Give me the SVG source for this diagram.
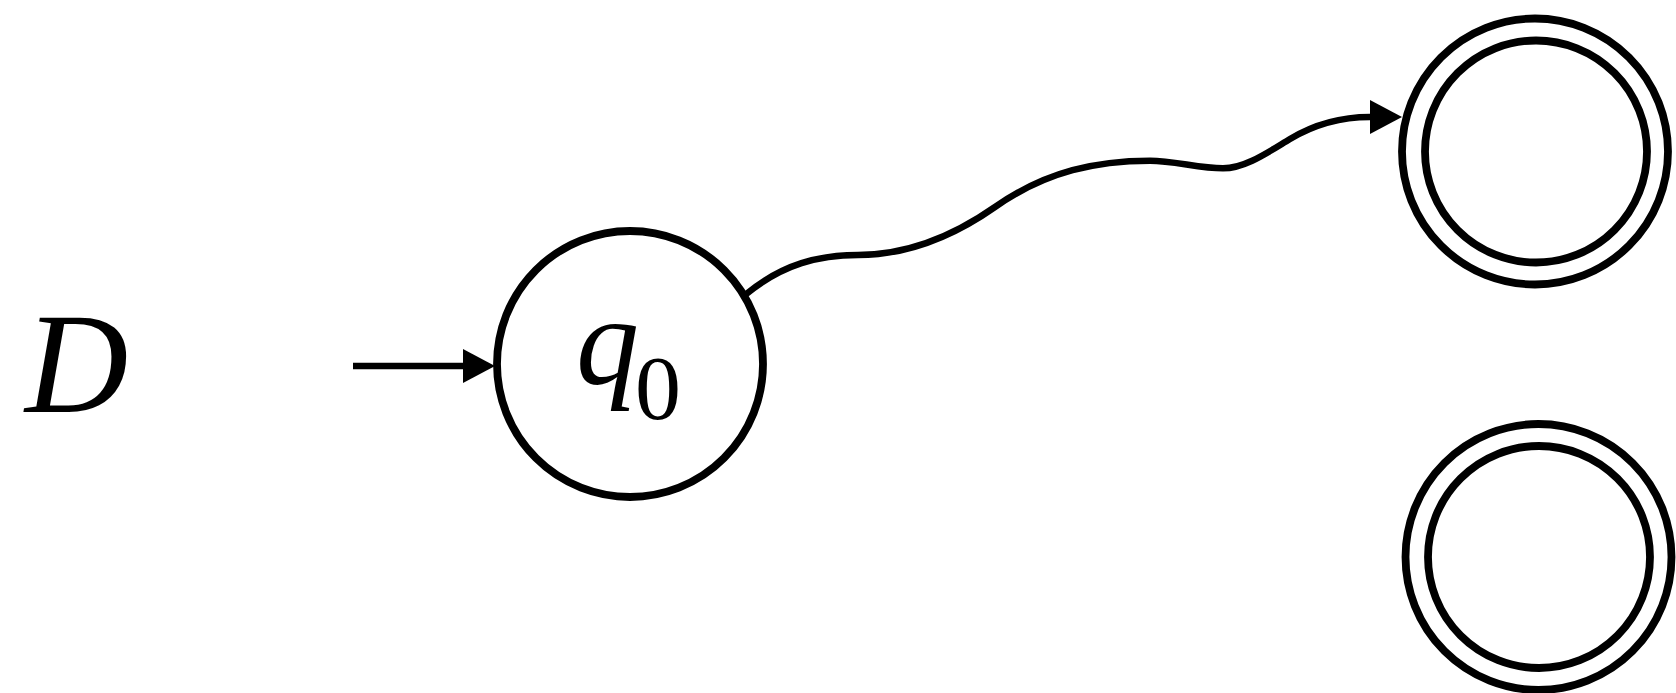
<svg xmlns="http://www.w3.org/2000/svg" width="1676" height="693" viewBox="0 0 1676 693">
<style>
.st{fill:none;stroke:#000;stroke-width:7.8}
.edge{fill:none;stroke:#000;stroke-width:6.5}
.lbl{font-family:"Liberation Serif","Times New Roman",serif;fill:#000}
</style>
<defs>
<marker id="ah" markerUnits="userSpaceOnUse" markerWidth="34" markerHeight="34" refX="0" refY="17" orient="auto" viewBox="0 0 34 34">
<path d="M0,0 L32,17 L0,34 z" fill="#000"/>
</marker>
</defs>
<rect width="1676" height="693" fill="#fff"/>
<g id="label-D">
<text class="lbl" x="25" y="412" font-size="143" font-style="italic">D</text>
</g>
<g id="q0">
<circle class="st" cx="630" cy="364" r="133"/>
<text class="lbl" x="576" y="384" font-size="126" font-style="italic">q</text>
<text class="lbl" x="635" y="419" font-size="92">0</text>
</g>
<g id="accept1">
<circle class="st" cx="1535" cy="151.5" r="133"/>
<circle class="st" cx="1536" cy="151.5" r="111"/>
</g>
<g id="accept2">
<circle class="st" cx="1538.5" cy="557" r="133"/>
<circle class="st" cx="1539" cy="557" r="111"/>
</g>
<g id="connectors">
<path class="edge" d="M353,366 L463,366" marker-end="url(#ah)"/>
<path class="edge" d="M745,295 C783,263.5 820,255 858,255 C904,255 949,239.2 995,207 C1047,170.6 1098,160.7 1150,160.7 C1174,160.7 1199,168.3 1223,168.3 C1245,168.3 1268,152.2 1290,139 C1316,123.4 1342,117 1370,117" marker-end="url(#ah)"/>
</g>
</svg>
